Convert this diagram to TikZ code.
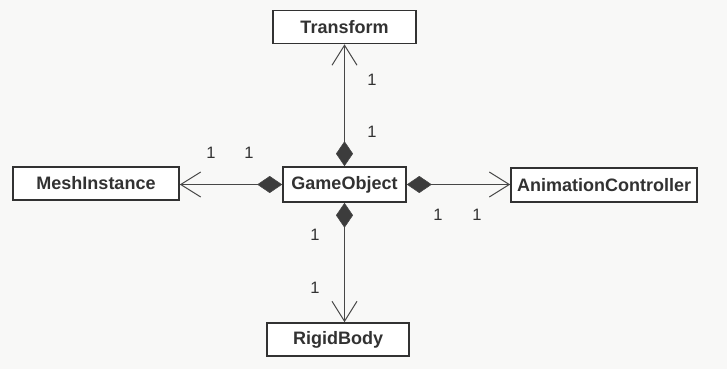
\documentclass[tikz,border=0pt]{standalone}
\usepackage{fontspec}
\setmainfont{Liberation Sans}
\usetikzlibrary{arrows.meta,shapes}

\definecolor{paper}{RGB}{248,248,247}
\definecolor{ink}{RGB}{50,50,50}

\begin{document}
\begin{tikzpicture}[x=1pt,y=-1pt]
\tikzstyle{every node} = [rectangle, font=\fontsize{18}{20}\selectfont]
\tikzstyle{cls} = [draw=ink, line width=1.6pt, fill=white, inner sep=0pt, minimum height=33pt, font=\fontsize{18}{20}\selectfont\bfseries, text=ink]
\tikzstyle{mult} = [text=ink, inner sep=0pt, font=\fontsize{16.5}{18}\selectfont]
\tikzstyle{comp} = [draw=ink!90, line width=1pt, {Diamond[length=25pt,width=17pt,fill=ink!95,line width=0.6pt]}-{Straight Barb[length=20pt,width=25pt,line width=1pt]}]

\fill[paper] (0,0) rectangle (727,369);
\useasboundingbox (0,0) rectangle (727,369);

\node[cls, minimum width=143pt] (transform) at (344.5, 27) {Transform};
\node[cls, minimum width=166pt] (mesh) at (96, 183.5) {MeshInstance};
\node[cls, minimum width=123pt, minimum height=35pt] (game) at (344.5, 184.5) {GameObject};
\node[cls, minimum width=186pt, minimum height=34pt] (anim) at (604, 185) {AnimationController};
\node[cls, minimum width=142pt] (rigid) at (338, 339.5) {RigidBody};

% multiplicities
\node[mult] (t1) at (372, 80) {1};
\node[mult] (t2) at (372, 132) {1};
\node[mult] (m1) at (211, 153) {1};
\node[mult] (m2) at (249, 153) {1};
\node[mult] (a1) at (438, 215) {1};
\node[mult] (a2) at (477, 215) {1};
\node[mult] (r1) at (315, 235) {1};
\node[mult] (r2) at (315, 288) {1};

\draw [comp] (game.north) -- (transform.south);
\draw [comp] (game.west) -- (game.west -| mesh.east);
\draw [comp] (game.east) -- (game.east -| anim.west);
\draw [comp] (game.south) -- (game.south |- rigid.north);
\end{tikzpicture}
\end{document}
